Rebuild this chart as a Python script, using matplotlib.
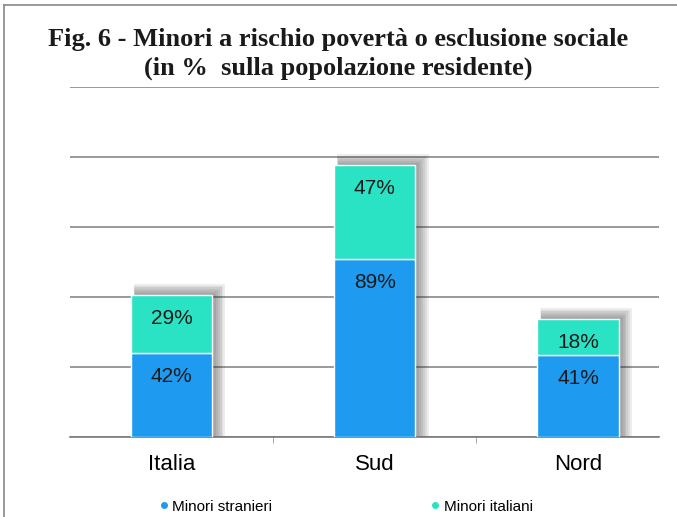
import numpy as np
import matplotlib.pyplot as plt

categories = ['Italia', 'Sud', 'Nord']
stranieri = [42, 89, 41]
italiani = [29, 47, 18]
series_names = ['Minori stranieri', 'Minori italiani']

col_blue = '#1e9bf0'
col_teal = '#2ae3c4'

fig = plt.figure(figsize=(6.77, 5.17), dpi=100)
ax = fig.add_axes([0.103, 0.155, 0.871, 0.677])

x = np.arange(len(categories))
tot = np.array(stranieri) + np.array(italiani)
w = 0.40

# soft drop shadow behind bars, mostly to the right and above
for k in range(6):
    ax.bar(x + 0.02 + 0.004 * k, tot + 1 + 0.9 * k, width=w + 0.01 * k,
           color='#202020', alpha=0.08, zorder=2, linewidth=0)

ax.bar(x, stranieri, width=w, color=col_blue, edgecolor='white', linewidth=1,
       zorder=3)
ax.bar(x, italiani, width=w, bottom=stranieri, color=col_teal, edgecolor='white',
       linewidth=1, zorder=3)

for i in range(len(categories)):
    ax.text(x[i], stranieri[i] - 12, '%d%%' % stranieri[i], ha='center',
            va='center', fontsize=15, color='#1a1a1a', family='Liberation Sans',
            zorder=4)
    ax.text(x[i], tot[i] - 12, '%d%%' % italiani[i], ha='center', va='center',
            fontsize=15, color='#1a1a1a', family='Liberation Sans', zorder=4)

ax.set_xlim(-0.5, 2.40)
ax.set_ylim(0, 175)
ax.set_yticks(np.arange(0, 176, 35))
ax.yaxis.grid(True, color='#888888', linewidth=1.2, zorder=0)
ax.set_yticklabels([])
ax.tick_params(axis='y', length=0)
ax.set_xticks(x)
ax.set_xticklabels(categories, fontsize=16, family='Liberation Sans')
ax.tick_params(axis='x', length=0, pad=12)
ax.set_xticks([0.5, 1.5], minor=True)
ax.tick_params(axis='x', which='minor', length=4, color='#999999')
for s in ['top', 'right', 'left']:
    ax.spines[s].set_visible(False)
ax.spines['bottom'].set_color('#7a7a7a')
ax.spines['bottom'].set_linewidth(1.2)

fig.text(0.5, 0.923, 'Fig. 6 - Minori a rischio povertà o esclusione sociale',
         ha='center', va='center', fontsize=19, fontweight='bold',
         family='Liberation Serif', color='#1a1a1a')
fig.text(0.5, 0.867, '(in %  sulla popolazione residente)', ha='center',
         va='center', fontsize=19, fontweight='bold', family='Liberation Serif',
         color='#1a1a1a')

legend_x = [0.225, 0.626]
for name, col, lx in zip(series_names, [col_blue, col_teal], legend_x):
    h = plt.Line2D([], [], marker='o', ls='', color=col, markersize=4)
    fig.legend([h], [name], loc='center left', bbox_to_anchor=(lx, 0.02),
               frameon=False, borderpad=0, handlelength=0.5, handletextpad=0.3,
               prop={'family': 'Liberation Sans', 'size': 11})

# page border on left and top
fig.add_artist(plt.Line2D([0.006, 0.006], [0, 0.99], color='#888888', lw=1.2))
fig.add_artist(plt.Line2D([0.006, 1], [0.99, 0.99], color='#888888', lw=1.2))

fig.savefig('out.png', dpi=100)
